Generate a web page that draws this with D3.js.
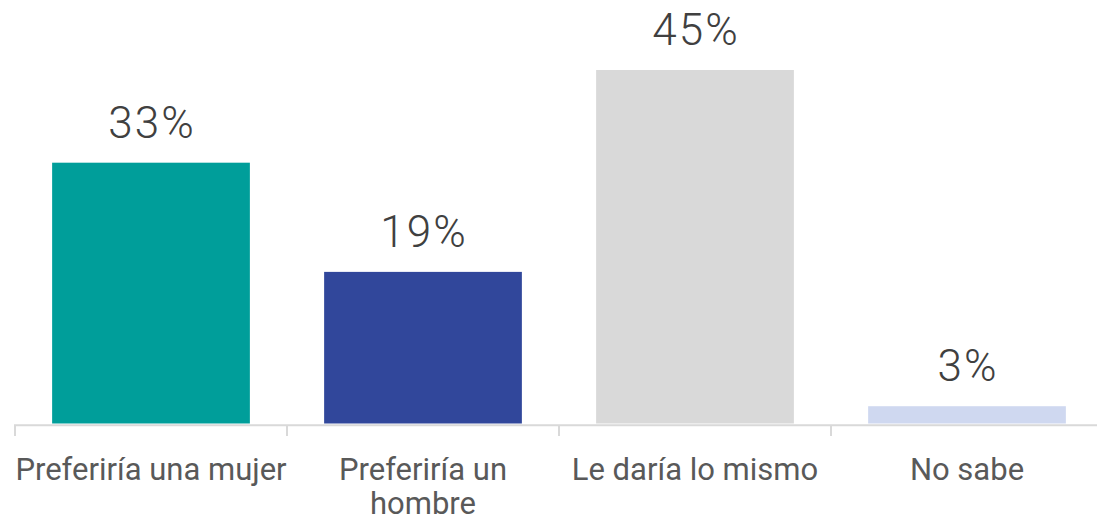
<!DOCTYPE html>
<html>
<head>
<meta charset="utf-8">
<script src="https://cdn.jsdelivr.net/npm/d3@7"></script>
<style>
  html, body { margin: 0; padding: 0; background: #ffffff; }
  svg { display: block; }
</style>
</head>
<body>
<svg id="chart" width="1097" height="522"></svg>
<script>
// ---- data ----
const categories = ["Preferiría una mujer", "Preferiría un hombre", "Le daría lo mismo", "No sabe"];
const values = [33.2, 19.3, 45.0, 2.2];
const valueLabels = ["33%", "19%", "45%", "3%"];
const tickLabels = [["Preferiría una mujer"], ["Preferiría un", "hombre"], ["Le daría lo mismo"], ["No sabe"]];
const colors = ["#009e9a", "#31479b", "#d9d9d9", "#cfd8f0"];

// ---- layout ----
const W = 1097, H = 522;
const baseY = 423.5;
const svg = d3.select("#chart");

const x = d3.scaleBand()
  .domain(categories)
  .range([15, 1103])
  .paddingInner(0.273)
  .paddingOuter(0.1365);

const y = d3.scaleLinear()
  .domain([0, 45])
  .range([baseY, 70]);

const font = "Roboto, 'Noto Sans', sans-serif";

// bars
svg.append("g").selectAll("rect")
  .data(categories)
  .join("rect")
  .attr("x", d => x(d))
  .attr("width", x.bandwidth())
  .attr("y", (d, i) => y(values[i]))
  .attr("height", (d, i) => y(0) - y(values[i]))
  .attr("fill", (d, i) => colors[i]);

// axis line + boundary ticks
const axisY = 425.3;
const g = svg.append("g");
g.append("line")
  .attr("x1", 14).attr("x2", W)
  .attr("y1", axisY).attr("y2", axisY)
  .attr("stroke", "#d9d9d9").attr("stroke-width", 2);
const boundaries = categories.map(c => x(c) - x.step() * x.paddingOuter()).concat([x.range()[1]]);
g.selectAll("line.tick")
  .data(boundaries)
  .join("line")
  .attr("class", "tick")
  .attr("x1", d => d).attr("x2", d => d)
  .attr("y1", axisY).attr("y2", 436)
  .attr("stroke", "#d9d9d9").attr("stroke-width", 2);

// category labels
const lab = svg.append("g").selectAll("text")
  .data(categories)
  .join("text")
  .attr("x", d => x(d) + x.bandwidth() / 2)
  .attr("y", 480)
  .attr("text-anchor", "middle")
  .attr("font-family", font)
  .attr("font-size", 31)
  .attr("fill", "#595959");
lab.each(function(d, i) {
  const t = d3.select(this);
  tickLabels[i].forEach((line, k) => {
    t.append("tspan")
      .attr("x", x(d) + x.bandwidth() / 2)
      .attr("dy", k === 0 ? 0 : 34)
      .text(line);
  });
});

// value labels
svg.append("g").selectAll("text")
  .data(categories)
  .join("text")
  .attr("x", d => x(d) + x.bandwidth() / 2 + 1)
  .attr("y", (d, i) => y(values[i]) - 25)
  .attr("text-anchor", "middle")
  .attr("font-family", font)
  .attr("font-weight", 300)
  .attr("font-size", 44)
  .attr("letter-spacing", 2)
  .attr("fill", "#404040")
  .text((d, i) => valueLabels[i]);
</script>
</body>
</html>
